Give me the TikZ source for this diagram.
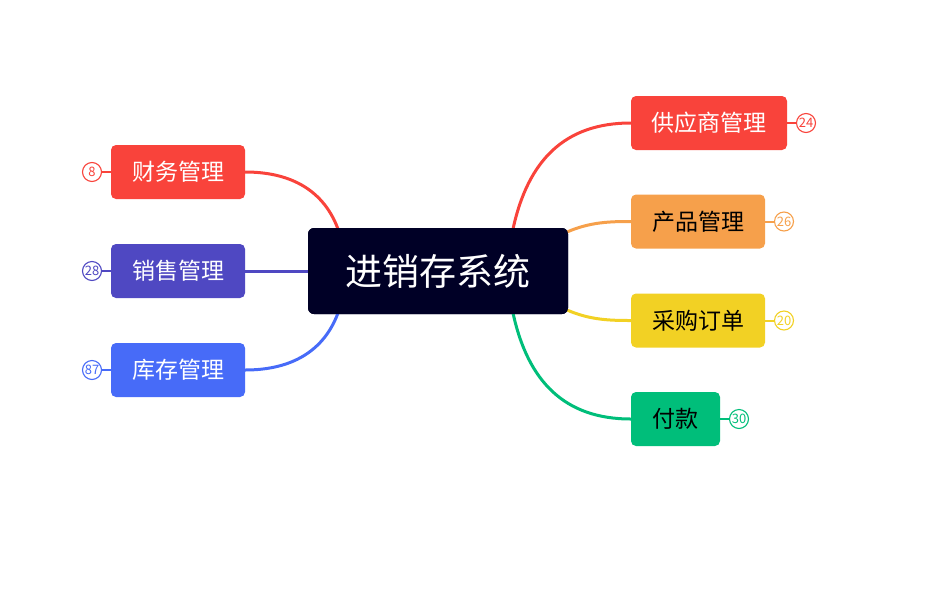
\documentclass[tikz,border=0pt]{standalone}
\usepackage{fontspec}
\setmainfont{Noto Sans CJK SC}
\definecolor{cRed}{HTML}{F9433B}
\definecolor{cPurple}{HTML}{4F48C2}
\definecolor{cBlue}{HTML}{476BF8}
\definecolor{cOrange}{HTML}{F6A04B}
\definecolor{cYellow}{HTML}{F2D124}
\definecolor{cGreen}{HTML}{00BE7A}
\definecolor{cNavy}{HTML}{000026}
\begin{document}
\begin{tikzpicture}[x=1pt,y=-1pt,
  topic/.style={rounded corners=5pt,inner sep=0pt,text height=20.2pt,text depth=2.8pt,font=\fontsize{23}{26}\selectfont},
  centre/.style={fill=cNavy,text=white,rounded corners=6pt,minimum width=260pt,minimum height=86pt,inner sep=0pt,text height=32.6pt,text depth=4.4pt,font=\fontsize{37}{40}\selectfont},
  badge/.style={circle,draw=#1,fill=white,line width=1.1pt,minimum size=19pt,inner sep=0pt,text height=9pt,text depth=0pt,text=#1,font=\fontsize{13}{14}\selectfont},
  link/.style={line width=3pt,draw=#1}]
\useasboundingbox (0,0) rectangle (937,611);
% center
\node[centre] (c) at (438,271) {进销存系统};
% left
\node[topic,fill=cRed,text=white,minimum width=134pt,minimum height=54pt] (l1) at (178,172) {财务管理};
\node[topic,fill=cPurple,text=white,minimum width=134pt,minimum height=54pt] (l2) at (178,271) {销售管理};
\node[topic,fill=cBlue,text=white,minimum width=134pt,minimum height=54pt] (l3) at (178,370) {库存管理};
% right
\node[topic,fill=cRed,text=white,minimum width=156pt,minimum height=54pt] (r1) at (709,123) {供应商管理};
\node[topic,fill=cOrange,text=black,minimum width=134pt,minimum height=54pt] (r2) at (698,221.5) {产品管理};
\node[topic,fill=cYellow,text=black,minimum width=134pt,minimum height=54pt] (r3) at (698,320.5) {采购订单};
\node[topic,fill=cGreen,text=black,minimum width=89pt,minimum height=54pt] (r4) at (675.5,419) {付款};
% badges
\node[badge=cRed] (b1) at (92,172) {8};
\node[badge=cPurple] (b2) at (92,271) {28};
\node[badge=cBlue] (b3) at (92,370) {87};
\node[badge=cRed] (b4) at (806,123) {24};
\node[badge=cOrange] (b5) at (784,221.5) {26};
\node[badge=cYellow] (b6) at (784,320.5) {20};
\node[badge=cGreen] (b7) at (739,419) {30};
% connectors
\coordinate (cl1) at (338,229);
\coordinate (cl3) at (338,313);
\coordinate (cr1) at (513,229);
\coordinate (cr2) at (567,232);
\coordinate (cr3) at (567,310);
\coordinate (cr4) at (513,313);
\draw[link=cRed] (cl1) .. controls (322,186) and (285,172) .. (l1.east);
\draw[link=cPurple] (c.west) -- (l2.east);
\draw[link=cBlue] (cl3) .. controls (322,356) and (285,370) .. (l3.east);
\draw[link=cRed] (cr1) .. controls (528,160) and (565,123) .. (r1.west);
\draw[link=cOrange] (cr2) .. controls (590,222) and (610,221.5) .. (r2.west);
\draw[link=cYellow] (cr3) .. controls (590,320) and (610,320.5) .. (r3.west);
\draw[link=cGreen] (cr4) .. controls (528,382) and (565,419) .. (r4.west);
\draw[line width=2pt,cRed] (b1.east) -- (l1.west);
\draw[line width=2pt,cPurple] (b2.east) -- (l2.west);
\draw[line width=2pt,cBlue] (b3.east) -- (l3.west);
\draw[line width=2pt,cRed] (r1.east) -- (b4.west);
\draw[line width=2pt,cOrange] (r2.east) -- (b5.west);
\draw[line width=2pt,cYellow] (r3.east) -- (b6.west);
\draw[line width=2pt,cGreen] (r4.east) -- (b7.west);
% redraw center on top of connector ends
\node[centre] at (c) {进销存系统};
\end{tikzpicture}
\end{document}
